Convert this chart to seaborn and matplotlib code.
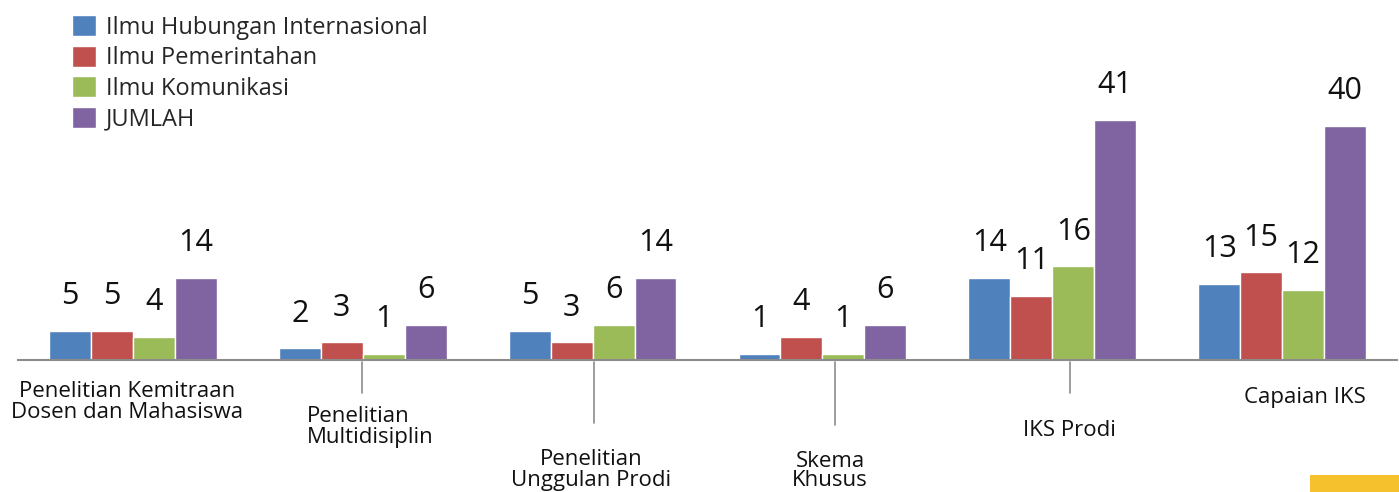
import matplotlib
matplotlib.use("Agg")
import matplotlib.pyplot as plt
import seaborn as sns
import pandas as pd
from matplotlib.lines import Line2D
from matplotlib.patches import Rectangle

# data
categories = ["Penelitian Kemitraan\nDosen dan Mahasiswa", "Penelitian\nMultidisiplin",
              "Penelitian\nUnggulan Prodi", "Skema\nKhusus", "IKS Prodi", "Capaian IKS"]
series = ["Ilmu Hubungan Internasional", "Ilmu Pemerintahan", "Ilmu Komunikasi", "JUMLAH"]
hi = [5, 2, 5, 1, 14, 13]
ip = [5, 3, 3, 4, 11, 15]
ik = [4, 1, 6, 1, 16, 12]
jumlah = [14, 6, 14, 6, 41, 40]
colors = ["#4F81BD", "#C0504D", "#9BBB59", "#8064A2"]

rows = []
for s, vals in zip(series, [hi, ip, ik, jumlah]):
    for c, v in zip(categories, vals):
        rows.append({"kategori": c, "prodi": s, "nilai": v})
df = pd.DataFrame(rows)

sns.set_style("white")
plt.rcParams["font.family"] = ["Open Sans", "DejaVu Sans"]

W, H = 1399, 492
fig = plt.figure(figsize=(W / 100, H / 100), dpi=100)
ax = fig.add_axes([18 / W, (H - 360) / H, 1379 / W, 360 / H])

sns.barplot(data=df, x="kategori", y="nilai", hue="prodi", palette=colors,
            width=0.73, gap=0, saturation=1, ax=ax, legend=True, errorbar=None)
ax.set_ylim(0, 360 / 5.85)
ax.set_xlim(-0.5, 5.5)

for cont in ax.containers:
    for bar in cont:
        v = bar.get_height()
        ax.annotate(f"{v:g}", (bar.get_x() + bar.get_width() / 2, v),
                    xytext=(0, 25), textcoords="offset points",
                    ha="center", va="center", fontsize=22, color="#111111")

ax.set_xticks([])
ax.set_yticks([])
ax.set_xlabel("")
ax.set_ylabel("")
for side in ["top", "right", "left"]:
    ax.spines[side].set_visible(False)
ax.spines["bottom"].set_color("#8c8c8c")
ax.spines["bottom"].set_linewidth(1.5)

# category labels (staggered, pixel positions)
lab_pos = [(127, 402, "center"), (307, 427, "left"), (591, 470, "center"),
           (830, 471, "center"), (1069, 430, "center"), (1305, 398, "center")]
for name, (x, y, ha) in zip(categories, lab_pos):
    fig.text(x / W, 1 - y / H, name, ha=ha, va="center", ma="center" if ha == "center" else "left",
             fontsize=16, color="#111111", linespacing=0.85 if name.startswith("Skema") else 1.05)

leaders = [(362, 393), (594, 423), (835, 425), (1070, 393)]
for x, y2 in leaders:
    fig.add_artist(Line2D([x / W, x / W], [1 - 362 / H, 1 - y2 / H], color="#8c8c8c", lw=1.2))

ax.legend(loc="upper left", bbox_to_anchor=(72 / W, 1 - 15 / H), bbox_transform=fig.transFigure,
          frameon=False, fontsize=17, handlelength=1.0, handleheight=1.0,
          handletextpad=0.45, labelspacing=0.25, borderpad=0, borderaxespad=0)

fig.add_artist(Rectangle((1310 / W, 0), 89 / W, 17 / H, transform=fig.transFigure,
                         color="#F5C22E", lw=0))

fig.savefig("out.png", dpi=100)
